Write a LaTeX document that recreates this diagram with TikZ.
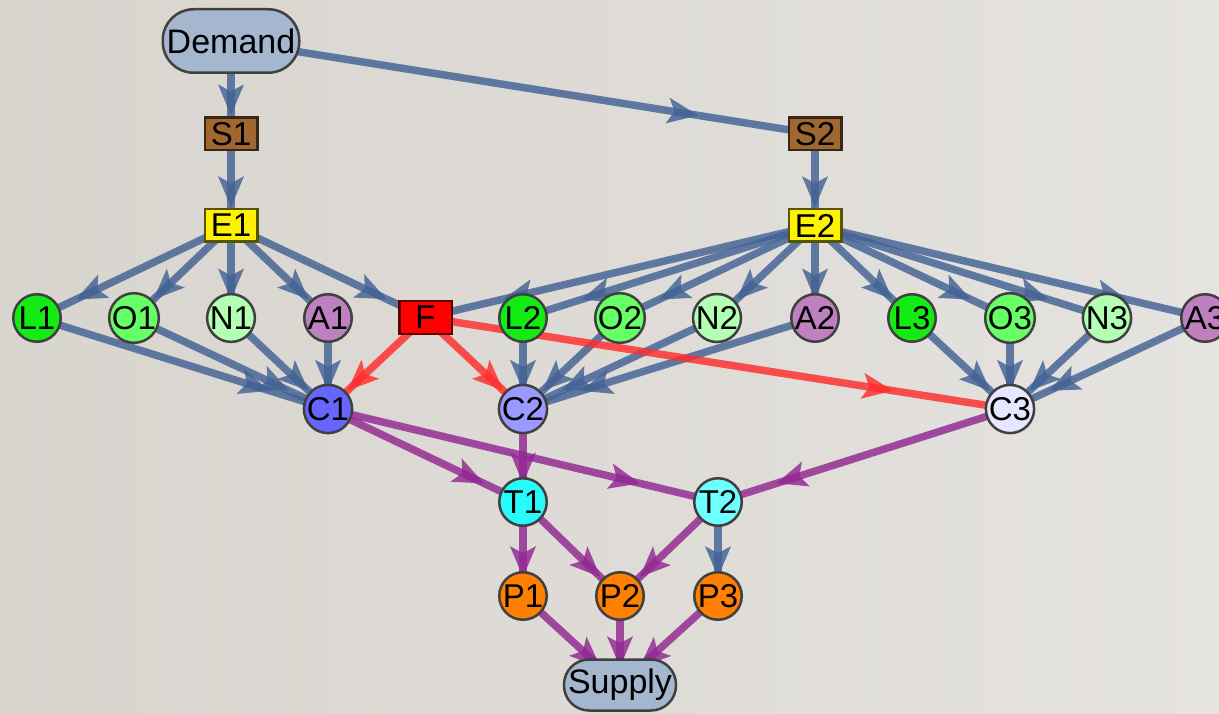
\documentclass[tikz,border=0pt]{standalone}
\usepackage{fontspec}
\setmainfont{Liberation Sans}
\usetikzlibrary{arrows.meta,decorations.markings}
\definecolor{bgleft}{RGB}{216,212,206}
\definecolor{bgright}{RGB}{229,227,224}
\definecolor{edgeblue}{RGB}{66,98,148}
\definecolor{edgepurple}{RGB}{145,40,145}
\definecolor{edgered}{RGB}{255,45,45}
\definecolor{nborder}{RGB}{64,64,64}
\definecolor{stadfill}{RGB}{165,182,207}
\definecolor{brownfill}{RGB}{160,104,48}
\definecolor{brownborder}{RGB}{58,38,20}
\definecolor{yelborder}{RGB}{85,85,0}
\definecolor{redborder}{RGB}{90,0,0}
\definecolor{Lfill}{RGB}{20,235,20}
\definecolor{Ofill}{RGB}{102,255,102}
\definecolor{Nfill}{RGB}{179,255,179}
\definecolor{Afill}{RGB}{191,128,191}
\definecolor{Conefill}{RGB}{102,102,255}
\definecolor{Ctwofill}{RGB}{153,153,255}
\definecolor{Cthreefill}{RGB}{230,230,255}
\definecolor{Tonefill}{RGB}{40,250,250}
\definecolor{Ttwofill}{RGB}{110,255,255}
\definecolor{Pfill}{RGB}{255,128,0}
\pgfdeclarelayer{bglayer}
\pgfdeclarelayer{edgelayer}
\pgfsetlayers{bglayer,edgelayer,main}
\tikzset{
  circ/.style={circle, draw=nborder, line width=2.5pt, minimum size=47.5pt, inner sep=0pt, font=\fontsize{33}{33}\selectfont},
  boxnode/.style={rectangle, line width=2.5pt, minimum width=52.5pt, minimum height=32.5pt, inner sep=0pt, font=\fontsize{33}{33}\selectfont},
  stad/.style={rectangle, rounded corners=#1, draw=nborder, fill=stadfill, line width=2.5pt, inner sep=0pt, font=\fontsize{34}{34}\selectfont},
  edgebase/.style={line width=7.5pt, opacity=0.82, postaction={decorate},
    decoration={markings, mark=at position 0.8 with {\arrow{Stealth[length=31pt,width=26pt,inset=7pt,line width=0pt]}}}},
  be/.style={edgebase, draw=edgeblue, fill=edgeblue},
  pe/.style={edgebase, draw=edgepurple, fill=edgepurple},
  re/.style={edgebase, draw=edgered, fill=edgered},
}
\begin{document}
\begin{tikzpicture}[x=1pt,y=-1pt]
\useasboundingbox (0,0) rectangle (1219,714);
\begin{pgfonlayer}{bglayer}
\shade[left color=bgleft, right color=bgright] (0,0) rectangle (1219,714);
\end{pgfonlayer}
% nodes
\node[stad=31pt, minimum width=136.5pt, minimum height=63.5pt] (Demand) at (231,41) {Demand};
\node[boxnode, draw=brownborder, fill=brownfill] (S1) at (231,134) {S1};
\node[boxnode, draw=brownborder, fill=brownfill] (S2) at (815,134) {S2};
\node[boxnode, draw=yelborder, fill=yellow] (E1) at (231,225.5) {E1};
\node[boxnode, draw=yelborder, fill=yellow] (E2) at (815,225.5) {E2};
\node[circ, fill=Lfill] (L1) at (37,318) {L1};
\node[circ, fill=Ofill] (O1) at (134,318) {O1};
\node[circ, fill=Nfill] (N1) at (231,318) {N1};
\node[circ, fill=Afill] (A1) at (328,318) {A1};
\node[boxnode, draw=redborder, fill=red] (F) at (425.5,317.5) {F};
\node[circ, fill=Lfill] (L2) at (523,318) {L2};
\node[circ, fill=Ofill] (O2) at (620,318) {O2};
\node[circ, fill=Nfill] (N2) at (717,318) {N2};
\node[circ, fill=Afill] (A2) at (815,318) {A2};
\node[circ, fill=Lfill] (L3) at (912,318) {L3};
\node[circ, fill=Ofill] (O3) at (1010,318) {O3};
\node[circ, fill=Nfill] (N3) at (1107,318) {N3};
\node[circ, fill=Afill] (A3) at (1205,318) {A3};
\node[circ, fill=Conefill] (C1) at (328,409) {C1};
\node[circ, fill=Ctwofill] (C2) at (523,409) {C2};
\node[circ, fill=Cthreefill] (C3) at (1010,409) {C3};
\node[circ, fill=Tonefill] (T1) at (523,502) {T1};
\node[circ, fill=Ttwofill] (T2) at (718,502) {T2};
\node[circ, fill=Pfill] (P1) at (523,596) {P1};
\node[circ, fill=Pfill] (P2) at (620,596) {P2};
\node[circ, fill=Pfill] (P3) at (718,596) {P3};
\node[stad=25pt, minimum width=112pt, minimum height=51pt] (Supply) at (620,685) {Supply};
% edges
\begin{pgfonlayer}{edgelayer}
\foreach \a/\b in {Demand/S1, Demand/S2, S1/E1, S2/E2,
  E1/L1, E1/O1, E1/N1, E1/A1, E1/F,
  E2/F, E2/L2, E2/O2, E2/N2, E2/A2, E2/L3, E2/O3, E2/N3, E2/A3,
  L1/C1, O1/C1, N1/C1, A1/C1,
  L2/C2, O2/C2, N2/C2, A2/C2,
  L3/C3, O3/C3, N3/C3, A3/C3, T2/P3}
  \path[be] (\a.center) -- (\b.center);
\foreach \a/\b in {F/C1, F/C2, F/C3}
  \path[re] (\a.center) -- (\b.center);
\foreach \a/\b in {C1/T1, C1/T2, C2/T1, C3/T2, T1/P1, T1/P2, T2/P2, P1/Supply, P2/Supply, P3/Supply}
  \path[pe] (\a.center) -- (\b.center);
\end{pgfonlayer}
\end{tikzpicture}
\end{document}
